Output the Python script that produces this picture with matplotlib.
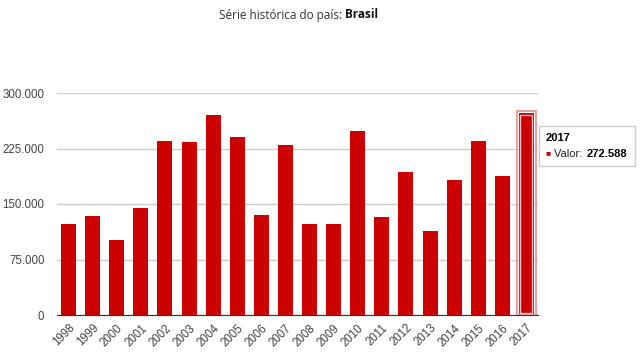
import numpy as np
import matplotlib.pyplot as plt
from matplotlib import font_manager as fm
from matplotlib.patches import Rectangle, FancyBboxPatch

# evitar que o matplotlib escolha a variante "Narrow"
fm.fontManager.ttflist = [f for f in fm.fontManager.ttflist if 'Narrow' not in f.fname]
plt.rcParams['font.family'] = ['Liberation Sans', 'DejaVu Sans']

anos = ['1998', '1999', '2000', '2001', '2002', '2003', '2004', '2005', '2006', '2007',
        '2008', '2009', '2010', '2011', '2012', '2013', '2014', '2015', '2016', '2017']
valores = [122600, 133400, 101000, 144200, 235300, 234000, 270300, 239900, 135600, 229900,
           122600, 122600, 248400, 132500, 193100, 114000, 182300, 235300, 187700, 272588]
yticks = [0, 75000, 150000, 225000, 300000]
ytick_labels = ['0', '75.000', '150.000', '225.000', '300.000']

fig = plt.figure(figsize=(6.4, 3.61), dpi=100)
ax = fig.add_axes([57 / 640, 1 - 315 / 361, (538 - 57) / 640, (315 - 93) / 361])

x = np.arange(len(anos))
bars = ax.bar(x, valores, width=0.62, color='#cc0000', zorder=2)

# destaque da última barra (hover)
b = bars[-1]
bx, bw, bh = b.get_x(), b.get_width(), b.get_height()
ax.add_patch(Rectangle((bx - 0.08, 0), bw + 0.16, bh + 2500, fill=False,
                       edgecolor='#e8a0a0', linewidth=1.5, zorder=3, clip_on=False))
ax.add_patch(Rectangle((bx + 0.06, 2500), bw - 0.12, bh - 5000, fill=False,
                       edgecolor='#f3c0c0', linewidth=1.0, zorder=3, clip_on=False))

ax.set_xlim(-0.48, len(anos) - 0.52)
ax.set_ylim(0, 300000)
ax.set_yticks(yticks)
ax.set_yticklabels(ytick_labels)
ax.set_xticks(x)
ax.set_xticklabels(anos, rotation=45, ha='right', rotation_mode='anchor')

ax.grid(axis='y', color='#cccccc', linewidth=1, zorder=0)
for s in ['top', 'right', 'left']:
    ax.spines[s].set_visible(False)
ax.spines['bottom'].set_color('#333333')
ax.spines['bottom'].set_zorder(4)
ax.tick_params(axis='both', length=0, labelsize=8.3, labelcolor='#444444')
ax.tick_params(axis='y', pad=9)
ax.tick_params(axis='x', pad=5)

fig.text(345 / 640, 1 - 15 / 361, 'Série histórica do país: ', ha='right', va='center',
         fontsize=8.5, color='#333333', family=['Open Sans', 'DejaVu Sans'])
fig.text(345 / 640, 1 - 15 / 361, 'Brasil', ha='left', va='center', fontsize=8.5,
         fontweight='bold', color='#111111', family=['Open Sans', 'DejaVu Sans'])

# tooltip
tip = FancyBboxPatch((539 / 640, 1 - 166 / 361), 96 / 640, 40 / 361,
                     boxstyle='square,pad=0', transform=fig.transFigure,
                     facecolor='white', edgecolor='#cccccc', linewidth=1)
fig.patches.append(tip)
fig.text(546 / 640, 1 - 138 / 361, '2017', fontsize=8, fontweight='bold', va='center', color='#000000')
fig.text(546 / 640, 1 - 154 / 361, '■', fontsize=6, va='center', color='#cc0000')
fig.text(554 / 640, 1 - 154 / 361, 'Valor: ', fontsize=8, va='center', color='#222222')
fig.text(587 / 640, 1 - 154 / 361, '272.588', fontsize=8, fontweight='bold', va='center', color='#000000')

fig.savefig('out.png', dpi=100)
